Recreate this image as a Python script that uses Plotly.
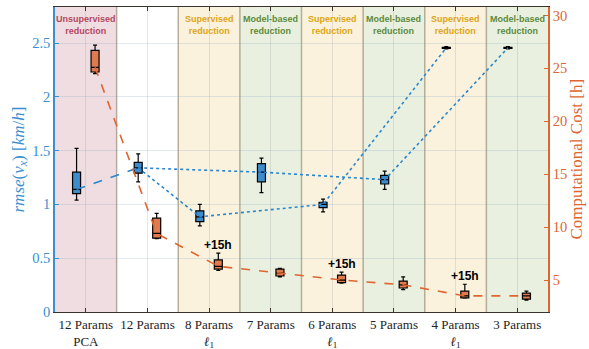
import plotly.graph_objects as go

# ---------------- data ----------------
categories = ["12 Params<br>PCA", "12 Params", "8 Params<br><i>ℓ</i><sub>1</sub>", "7 Params",
              "6 Params<br><i>ℓ</i><sub>1</sub>", "5 Params", "4 Params<br><i>ℓ</i><sub>1</sub>", "3 Params"]
region_types = ["Unsupervised", None, "Supervised", "Model-based",
                "Supervised", "Model-based", "Supervised", "Model-based"]

rmse_lower = [1.04, 1.21, 0.80, 1.11, 0.93, 1.14, 2.445, 2.445]
rmse_q1 = [1.10, 1.29, 0.84, 1.21, 0.97, 1.19, 2.451, 2.451]
rmse_median = [1.14, 1.34, 0.885, 1.30, 1.00, 1.23, 2.456, 2.456]
rmse_q3 = [1.30, 1.39, 0.94, 1.38, 1.02, 1.27, 2.461, 2.461]
rmse_upper = [1.52, 1.47, 1.00, 1.43, 1.05, 1.31, 2.466, 2.466]

cost_lower = [24.5, 8.9, 5.9, 5.3, 4.7, 4.1, 3.3, 3.1]
cost_q1 = [24.66, 8.96, 6.04, 5.38, 4.75, 4.25, 3.32, 3.2]
cost_median = [25.1, 9.4, 6.3, 5.66, 5.0, 4.55, 3.5, 3.5]
cost_q3 = [26.7, 10.85, 6.9, 6.04, 5.47, 4.9, 3.96, 3.77]
cost_upper = [27.2, 11.3, 7.55, 6.1, 5.75, 5.3, 4.6, 3.96]

extra_cost_idx = [2, 4, 6]
extra_cost_text = "+15h"

# connection paths between rmse medians (indices)
path_dashed = [0, 1]
path_model = [1, 3, 5, 7]
path_l1 = [1, 2, 4, 6]

# ---------------- style ----------------
BLUE = "#3a8fd0"
BLUE_LINE = "#2a86cf"
BLUE_FILL = "#3d8ccb"
ORANGE = "#e0652f"
ORANGE_FILL = "#e07b4f"
OFF = 0.15
region_fill = {"Unsupervised": "#efdde1", "Supervised": "#fbf2de", "Model-based": "#e9f0e0"}
region_text = {"Unsupervised": "#b5475f", "Supervised": "#e0a514", "Model-based": "#5e8a3c"}
SERIF = "Liberation Serif"

n = len(categories)
xb = [i - OFF for i in range(n)]
xo = [i + OFF for i in range(n)]

fig = go.Figure()

# lines (drawn first, under boxes)
fig.add_trace(go.Scatter(x=[xb[i] for i in path_dashed], y=[rmse_median[i] for i in path_dashed],
                         mode="lines", line=dict(color=BLUE_LINE, width=1.6, dash="dash"),
                         showlegend=False, hoverinfo="skip"))
for p in (path_model, path_l1):
    fig.add_trace(go.Scatter(x=[xb[i] for i in p], y=[rmse_median[i] for i in p],
                             mode="lines", line=dict(color=BLUE_LINE, width=1.6, dash="dot"),
                             showlegend=False, hoverinfo="skip"))
fig.add_trace(go.Scatter(x=xo, y=cost_median, yaxis="y2", mode="lines",
                         line=dict(color=ORANGE, width=1.6, dash="dash"),
                         showlegend=False, hoverinfo="skip"))

fig.add_trace(go.Box(x=xb, q1=rmse_q1, median=rmse_median, q3=rmse_q3,
                     lowerfence=rmse_lower, upperfence=rmse_upper,
                     width=0.13, whiskerwidth=0.5, fillcolor=BLUE_FILL,
                     line=dict(color="black", width=1.2), boxpoints=False,
                     showlegend=False))
fig.add_trace(go.Box(x=xo, q1=cost_q1, median=cost_median, q3=cost_q3,
                     lowerfence=cost_lower, upperfence=cost_upper, yaxis="y2",
                     width=0.13, whiskerwidth=0.5, fillcolor=ORANGE_FILL,
                     line=dict(color="black", width=1.2), boxpoints=False,
                     showlegend=False))

shapes = []
annotations = []
for i, rt in enumerate(region_types):
    if rt is not None:
        shapes.append(dict(type="rect", xref="x", yref="paper", x0=i - 0.5, x1=i + 0.5,
                           y0=0, y1=1, fillcolor=region_fill[rt], line=dict(width=0),
                           layer="below"))
        annotations.append(dict(x=i, y=0.941, xref="x", yref="paper",
                                text=f"<b>{rt}<br>reduction</b>", showarrow=False,
                                font=dict(family="Liberation Sans", size=9, color=region_text[rt]),
                                xanchor="center", yanchor="middle"))
for i in range(n - 1):
    shapes.append(dict(type="line", xref="x", yref="paper", x0=i + 0.5, x1=i + 0.5,
                       y0=0, y1=1, line=dict(color="rgba(140,125,100,0.6)", width=1.5),
                       layer="below"))

for i in extra_cost_idx:
    annotations.append(dict(x=xo[i], y=cost_upper[i], xref="x", yref="y2", text="<b>" + extra_cost_text + "</b>",
                            showarrow=False, yanchor="bottom", yshift=-1,
                            font=dict(family="Liberation Sans", size=12, color="black")))

annotations.append(dict(x=0, y=0.5, xref="paper", yref="paper", xshift=-36, textangle=-90,
                        text="<i>rmse</i>(<i>v<sub>x</sub></i>) [<i>km</i>/<i>h</i>]",
                        showarrow=False, xanchor="center", yanchor="middle",
                        font=dict(family=SERIF, size=17, color=BLUE)))
annotations.append(dict(x=1, y=0.5, xref="paper", yref="paper", xshift=28, textangle=-90,
                        text="Computational Cost [h]",
                        showarrow=False, xanchor="center", yanchor="middle",
                        font=dict(family=SERIF, size=17, color=ORANGE)))

fig.update_layout(
    width=589, height=349,
    margin=dict(l=55, r=41, t=7, b=37),
    plot_bgcolor="white", paper_bgcolor="white",
    boxmode="overlay",
    shapes=shapes, annotations=annotations,
    xaxis=dict(range=[-0.5, n - 0.5], tickmode="array", tickvals=list(range(n)),
               ticktext=categories, showgrid=True, gridcolor="rgba(140,140,140,0.22)",
               gridwidth=1, zeroline=False, showline=True, linecolor="#3a322c", linewidth=1.2,
               mirror="ticks", ticks="inside", ticklen=4, tickcolor="#3a322c",
               automargin=False,
               tickfont=dict(family=SERIF, size=13, color="#222")),
    yaxis=dict(range=[0, 2.835], tickvals=[0, 0.5, 1, 1.5, 2, 2.5],
               ticktext=["0", "0.5", "1", "1.5", "2", "2.5"], automargin=False,
               showgrid=True, gridcolor="rgba(120,160,190,0.22)", zeroline=False,
               showline=True, linecolor=BLUE, linewidth=1.5, ticks="inside", ticklen=4,
               tickcolor=BLUE, tickfont=dict(family=SERIF, size=14.5, color=BLUE)),
    yaxis2=dict(range=[1.98, 30.8], overlaying="y", side="right", automargin=False,
                tickvals=[5, 10, 15, 20, 25, 30], showgrid=False, zeroline=False,
                showline=True, linecolor=ORANGE, linewidth=1.5, ticks="inside", ticklen=4,
                tickcolor=ORANGE, tickfont=dict(family=SERIF, size=14.5, color=ORANGE)),
)

fig.write_html("out.html", config={"displayModeBar": False},
               post_script="document.body.style.margin='0';document.body.style.overflow='hidden';")
